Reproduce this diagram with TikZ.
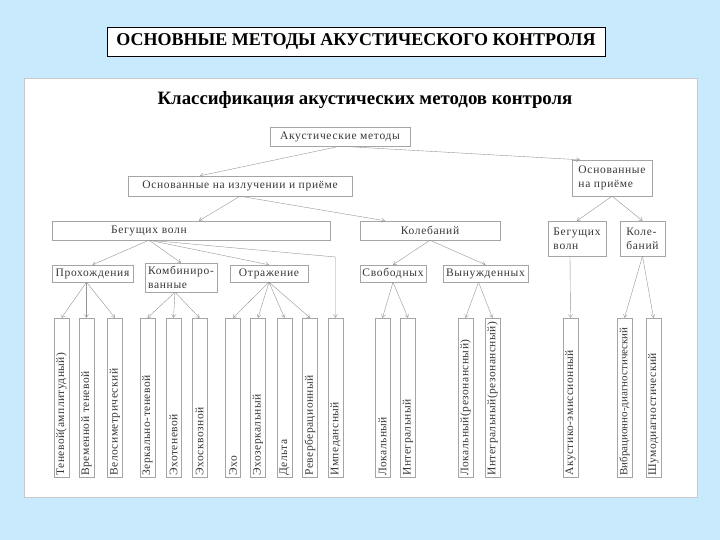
\documentclass[tikz,border=0pt]{standalone}
\usepackage{fontspec}
\setmainfont{Liberation Serif}
\newfontfamily\boxfont[LetterSpace=6]{Liberation Serif}
\newfontfamily\leaffont[LetterSpace=4]{Liberation Serif}
\usetikzlibrary{arrows.meta}
\definecolor{slidebg}{RGB}{201,233,252}
\definecolor{boxline}{RGB}{165,165,165}
\definecolor{linkline}{RGB}{150,150,150}
\definecolor{boxtext}{RGB}{55,55,55}
\tikzset{box/.style={draw=boxline,fill=white,inner sep=1pt,text=boxtext,
 font=\boxfont\fontsize{11.5}{14}\selectfont},
 leaf/.style={box,rotate=90,minimum width=159pt,minimum height=15pt,
 text width=156pt,align=left,font=\leaffont\fontsize{11.5}{12}\selectfont},
 link/.style={-{Straight Barb[length=3pt,width=4pt]},linkline}}

\begin{document}
\begin{tikzpicture}[x=1pt,y=-1pt]
\fill[slidebg] (0,0) rectangle (720,540);
\draw[boxline!60,fill=white] (24,78) rectangle (697,497);
\node[draw,thick,fill=white,minimum width=498pt,minimum height=29pt,inner sep=0pt,
 font=\bfseries\fontsize{18}{20}\selectfont] (title) at (356,41.5)
 {ОСНОВНЫЕ МЕТОДЫ АКУСТИЧЕСКОГО КОНТРОЛЯ};
\node[font=\bfseries\fontsize{18.8}{21}\selectfont] (head) at (365,100)
 {Классификация акустических методов контроля};
\node[box,minimum width=140pt,minimum height=19pt] (am) at (340,136.5) {Акустические методы};
\node[box,minimum width=224pt,minimum height=20pt] (izl) at (240,186) {Основанные на излучении и приёме};
\node[box,minimum width=80pt,minimum height=36pt,align=left] (pri) at (612,178) {Основанные\\на приёме};
\node[box,minimum width=278pt,minimum height=19pt,text width=272pt,align=left] (bv) at (191,230.5)
 {\hspace*{56pt}Бегущих волн};
\node[box,minimum width=140pt,minimum height=19pt] (kol) at (430,230.5) {Колебаний};
\node[box,minimum width=58pt,minimum height=35pt,align=left] (bv2) at (577,238.5) {Бегущих\\волн};
\node[box,minimum width=45pt,minimum height=35pt,align=left] (kol2) at (642.5,238.5) {Коле-\\баний};
\node[box,minimum width=81pt,minimum height=17pt] (proh) at (92.5,273.5) {Прохождения};
\node[box,minimum width=72pt,minimum height=29pt,align=left] (komb) at (181,277.5) {Комбиниро-\\ванные};
\node[box,minimum width=78pt,minimum height=17pt] (otr) at (269,273.5) {Отражение};
\node[box,minimum width=66pt,minimum height=17pt] (svob) at (393,273.5) {Свободных};
\node[box,minimum width=85pt,minimum height=17pt] (vyn) at (485.5,273.5) {Вынужденных};
\node[leaf] (l1) at (61.5,397.5) {Теневой(амплитудный)};
\node[leaf] (l2) at (86.5,397.5) {Временной теневой};
\node[leaf] (l3) at (115,397.5) {Велосиметрический};
\node[leaf] (l4) at (147.5,397.5) {Зеркально-теневой};
\node[leaf] (l5) at (173.5,397.5) {Эхотеневой};
\node[leaf] (l6) at (199.5,397.5) {Эхосквозной};
\node[leaf] (l7) at (233,397.5) {Эхо};
\node[leaf] (l8) at (258,397.5) {Эхозеркальный};
\node[leaf] (l9) at (284.5,397.5) {Дельта};
\node[leaf] (l10) at (310,397.5) {Реверберационный};
\node[leaf] (l11) at (335.5,397.5) {Импедансный};
\node[leaf] (l12) at (382.5,397.5) {Локальный};
\node[leaf] (l13) at (408,397.5) {Интегральный};
\node[leaf] (l14) at (465.5,397.5) {Локальный(резонансный)};
\node[leaf] (l15) at (492.5,397.5) {Интегральный(резонансный)};
\node[leaf] (l16) at (570.5,397.5) {Акустико-эмиссионный};
\node[leaf,font=\fontsize{11}{12}\selectfont] (l17) at (624.5,397.5) {Вибрационно-диагностический};
\node[leaf] (l18) at (653.5,397.5) {Шумодиагностический};
\draw[link] (am.south) -- ([xshift=-40pt]izl.north);
\draw[link] (am.south) -- ([xshift=-32pt]pri.north);
\draw[link] (izl.south) -- ([xshift=8pt]bv.north);
\draw[link] (izl.south) -- ([xshift=-45pt]kol.north);
\draw[link] ([xshift=-42pt]bv.south) -- (proh.north);
\draw[link] ([xshift=-42pt]bv.south) -- (komb.north);
\draw[link] ([xshift=-42pt]bv.south) -- (otr.north);
\draw[link] ([xshift=-42pt]bv.south) -- (335.5,257) -- (l11.east);
\draw[link] (kol.south) -- (svob.north);
\draw[link] (kol.south) -- (vyn.north);
\draw[link] (pri.south) -- (bv2.north);
\draw[link] (pri.south) -- (kol2.north);
\draw[link] ([xshift=-6pt]proh.south) -- (l1.east);
\draw[link] ([xshift=-6pt]proh.south) -- (l2.east);
\draw[link] ([xshift=-6pt]proh.south) -- (l3.east);
\draw[link] ([xshift=-6pt]komb.south) -- (l4.east);
\draw[link] ([xshift=-6pt]komb.south) -- (l5.east);
\draw[link] ([xshift=-6pt]komb.south) -- (l6.east);
\draw[link] (otr.south) -- (l7.east);
\draw[link] (otr.south) -- (l8.east);
\draw[link] (otr.south) -- (l9.east);
\draw[link] (otr.south) -- (l10.east);
\draw[link] (svob.south) -- (l12.east);
\draw[link] (svob.south) -- (l13.east);
\draw[link] ([xshift=-7pt]vyn.south) -- (l14.east);
\draw[link] ([xshift=-7pt]vyn.south) -- (l15.east);
\draw[link] ([xshift=-7pt]bv2.south) -- (l16.east);
\draw[link] (kol2.south) -- (l17.east);
\draw[link] (kol2.south) -- (l18.east);
\end{tikzpicture}
\end{document}
